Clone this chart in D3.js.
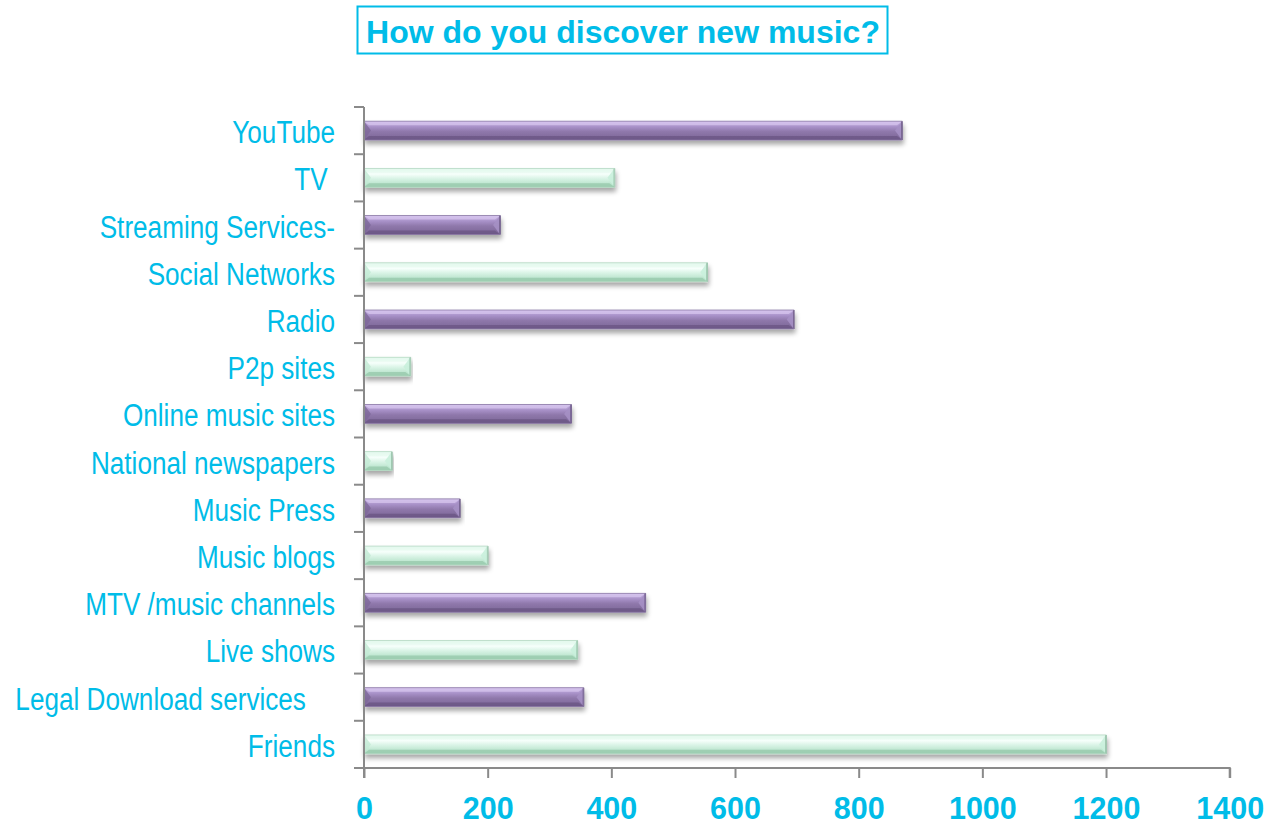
<!DOCTYPE html>
<html><head><meta charset="utf-8">
<script src="https://cdn.jsdelivr.net/npm/d3@7"></script>
<style>body{margin:0;background:#fff}svg{display:block}</style>
</head><body>
<svg id="c" width="1268" height="824"></svg>
<script>
const categories = ["YouTube","TV ","Streaming Services-","Social Networks","Radio","P2p sites","Online music sites","National newspapers","Music Press","Music blogs","MTV /music channels","Live shows","Legal Download services    ","Friends"];
const values = [870,405,220,555,695,75,335,45,155,200,455,345,355,1200];
const xTicks = [0,200,400,600,800,1000,1200,1400];
const title = "How do you discover new music?";

(function(){
const svg = d3.select("#c");
const cyan = "#00BCE8";
const axisCol = "#8a8a8a";
const pLeft = 364, pRight = 1229.7, pTop = 107, pBottom = 768;

const x = d3.scaleLinear().domain([0,1400]).range([pLeft,pRight]);
const y = d3.scaleBand().domain(categories).range([pTop,pBottom]).paddingInner(0.6).paddingOuter(0.3);

const defs = svg.append("defs");
function grad(id, stops){
  const g = defs.append("linearGradient").attr("id",id).attr("x1",0).attr("y1",0).attr("x2",0).attr("y2",1);
  stops.forEach(s=>g.append("stop").attr("offset",s[0]).attr("stop-color",s[1]));
}
grad("gp",[[0,"#c9b5e6"],[0.3,"#a891c8"],[0.55,"#8f78ab"],[1,"#7a6495"]]);
grad("gg",[[0,"#d6f3e4"],[0.3,"#f6fffb"],[0.55,"#d8f3e5"],[1,"#a9dcbf"]]);
const f = defs.append("filter").attr("id","sh").attr("x","-5%").attr("y","-50%").attr("width","110%").attr("height","250%");
f.append("feGaussianBlur").attr("in","SourceAlpha").attr("stdDeviation",2.5);
f.append("feOffset").attr("dx",1).attr("dy",4).attr("result","b");
f.append("feComponentTransfer").append("feFuncA").attr("type","linear").attr("slope",0.35);
const m = f.append("feMerge"); m.append("feMergeNode"); m.append("feMergeNode").attr("in","SourceGraphic");

// title
svg.append("rect").attr("x",357.5).attr("y",6.5).attr("width",530).attr("height",47)
  .attr("fill","#fff").attr("stroke",cyan).attr("stroke-width",2);
svg.append("text").attr("x",623).attr("y",43).attr("text-anchor","middle")
  .attr("font-family","Liberation Sans, Arial, sans-serif").attr("font-weight","bold")
  .attr("font-size",32).attr("fill",cyan).text(title);

// bars
const bw = 5;
const g = svg.append("g");
categories.forEach((c,i)=>{
  const x0 = x(0), x1 = x(values[i]), y0 = y(c), h = y.bandwidth(), y1 = y0+h;
  const purple = i%2===0;
  const bg = g.append("g").attr("filter","url(#sh)");
  bg.append("rect").attr("x",x0).attr("y",y0).attr("width",x1-x0).attr("height",h)
    .attr("fill",purple?"url(#gp)":"url(#gg)");
  const b = Math.min(bw,(x1-x0)/3);
  bg.append("polygon").attr("points",`${x0},${y0} ${x1},${y0} ${x1-b},${y0+4} ${x0+b},${y0+4}`)
    .attr("fill",purple?"#d8c8ef":"#e8fbf1").attr("opacity",0.7);
  bg.append("polygon").attr("points",`${x0},${y1} ${x1},${y1} ${x1-b},${y1-4} ${x0+b},${y1-4}`)
    .attr("fill",purple?"#6a5685":"#98c9ad").attr("opacity",0.8);
  bg.append("polygon").attr("points",`${x0},${y0} ${x0+b+2},${y0+h/2} ${x0},${y1}`)
    .attr("fill",purple?"#7d6898":"#c3ead5").attr("opacity",0.8);
  bg.append("polygon").attr("points",`${x1},${y0} ${x1-b-2},${y0+h/2} ${x1},${y1}`)
    .attr("fill",purple?"#a590c4":"#c9efdb").attr("opacity",0.9);
  bg.append("line").attr("x1",x1).attr("x2",x1).attr("y1",y0).attr("y2",y1)
    .attr("stroke",purple?"#5e4b78":"#7fae93").attr("stroke-width",1.5);
  bg.append("rect").attr("x",x0).attr("y",y0).attr("width",x1-x0).attr("height",h)
    .attr("fill","none").attr("stroke",purple?"#8c7aa6":"#b6d9c4").attr("stroke-width",0.8);
});

// y axis
const yBoundaries = categories.map(c=>y(c)-y.step()*y.paddingInner()/2);
yBoundaries.push(pBottom);
svg.append("line").attr("x1",pLeft).attr("x2",pLeft).attr("y1",pTop).attr("y2",pBottom)
  .attr("stroke",axisCol).attr("stroke-width",2);
svg.selectAll(".yt").data(yBoundaries).join("line")
  .attr("x1",pLeft-10).attr("x2",pLeft).attr("y1",d=>d).attr("y2",d=>d)
  .attr("stroke",axisCol).attr("stroke-width",2);
svg.selectAll(".yl").data(categories).join("text")
  .attr("transform",c=>`translate(335,${y(c)+y.bandwidth()/2+12.5}) scale(0.83,1)`)
  .attr("text-anchor","end").style("white-space","pre")
  .attr("font-family","Liberation Sans, Arial, sans-serif").attr("font-size",31.5)
  .attr("fill",cyan).text(c=>c);

// x axis
const xAxis = d3.axisBottom(x).tickValues(xTicks).tickSize(10).tickFormat(d3.format("d"));
const xa = svg.append("g").attr("transform",`translate(0,${pBottom})`).call(xAxis);
xa.select(".domain").attr("stroke",axisCol).attr("stroke-width",2).attr("d",`M${pLeft},10V0H${pRight}V10`);
xa.selectAll(".tick line").attr("stroke",axisCol).attr("stroke-width",2);
xa.selectAll(".tick text").attr("y",51).attr("dy",0).attr("fill",cyan)
  .attr("font-family","Liberation Sans, Arial, sans-serif").attr("font-weight","bold").attr("font-size",30.5);
})();
</script>
</body></html>
